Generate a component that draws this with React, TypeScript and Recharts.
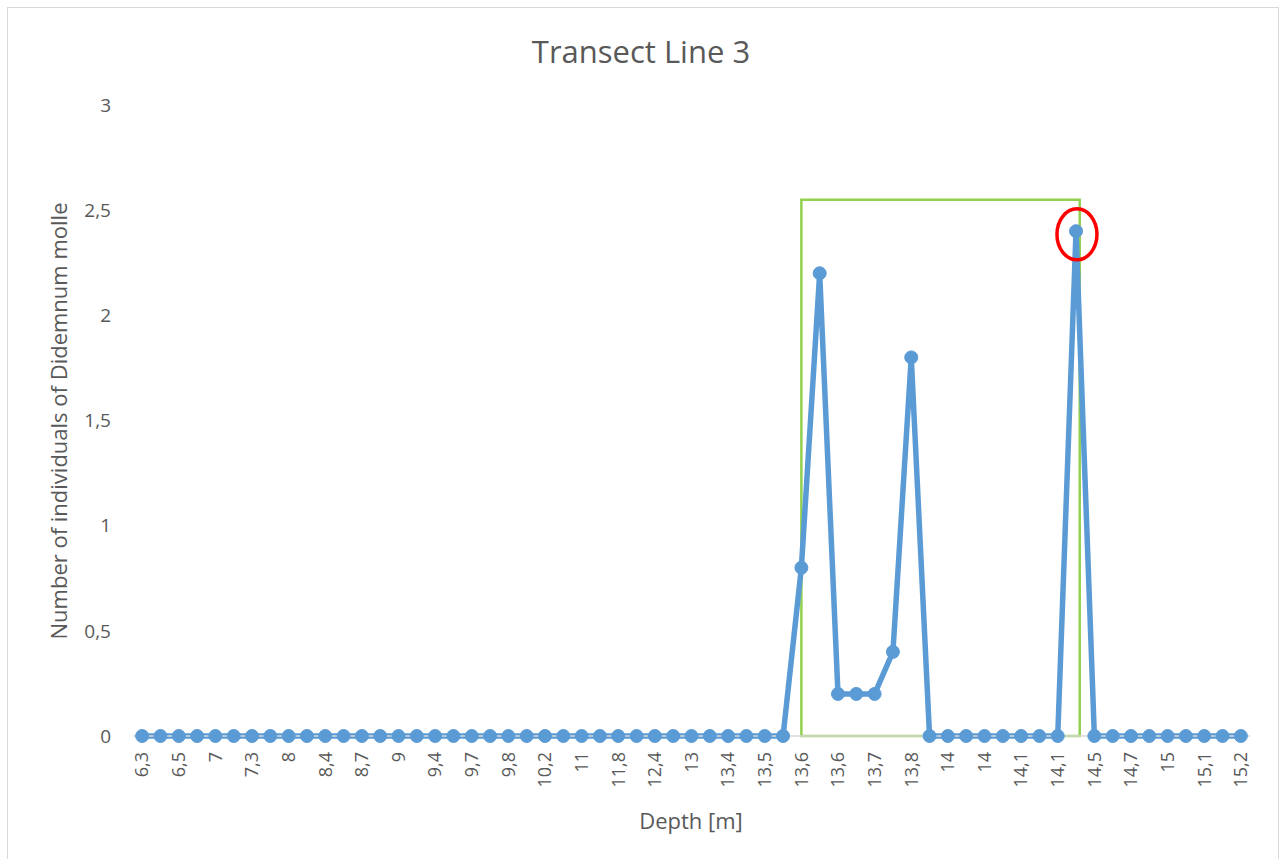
import { LineChart, Line, XAxis, YAxis, ReferenceArea, ReferenceDot } from 'recharts'

// depth of each sample point (odd entries are not shown on the axis)
const depths = [
  '6,3', '6,4', '6,5', '6,8', '7', '7,1', '7,3', '7,6', '8', '8,2',
  '8,4', '8,5', '8,7', '8,9', '9', '9,2', '9,4', '9,5', '9,7', '9,7',
  '9,8', '10', '10,2', '10,6', '11', '11,4', '11,8', '12,1', '12,4', '12,7',
  '13', '13,2', '13,4', '13,4', '13,5', '13,5', '13,6', '13,6', '13,6', '13,6',
  '13,7', '13,7', '13,8', '13,9', '14', '14', '14', '14', '14,1', '14,1',
  '14,1', '14,3', '14,5', '14,6', '14,7', '14,8', '15', '15', '15,1', '15,1',
  '15,2',
]

const counts = [
  0, 0, 0, 0, 0, 0, 0, 0, 0, 0,
  0, 0, 0, 0, 0, 0, 0, 0, 0, 0,
  0, 0, 0, 0, 0, 0, 0, 0, 0, 0,
  0, 0, 0, 0, 0, 0, 0.8, 2.2, 0.2, 0.2,
  0.2, 0.4, 1.8, 0, 0, 0, 0, 0, 0, 0,
  0, 2.4, 0, 0, 0, 0, 0, 0, 0, 0,
  0,
]

const yTicks = [0, 0.5, 1, 1.5, 2, 2.5, 3]

// highlighted zone and the marked maximum
const zone = { x1: 36, x2: 51.2, y1: 0, y2: 2.55 }
const peak = { x: 51.05, y: 2.385 }

const data = counts.map((v, i) => ({ idx: i, depth: depths[i], count: v }))
const xTicks = depths.map((_, i) => i).filter((i) => i % 2 === 0)

const FONT = '"Open Sans", "Liberation Sans", sans-serif'
const GREY = '#595959'

const fmt = (v: number) => String(v).replace('.', ',')

const DepthTick = (props: any) => {
  const { x, y, payload } = props
  const top = y + 8
  // rotate around the top end of the label
  return (
    <text
      x={x}
      y={top}
      transform={`rotate(-90, ${x}, ${top})`}
      dy="0.35em"
      textAnchor="end"
      fill={GREY}
      fontSize={18}
      fontFamily={FONT}
    >
      {depths[payload.value]}
    </text>
  )
}

const PeakRing = (props: any) => (
  <ellipse
    cx={props.cx}
    cy={props.cy}
    rx={20}
    ry={25.5}
    fill="none"
    stroke="#ff0000"
    strokeWidth={3.5}
  />
)

export default function App() {
  return (
    <div
      style={{
        position: 'absolute',
        left: 0,
        top: 0,
        width: 1282,
        height: 859,
        background: '#fff',
        fontFamily: FONT,
      }}
    >
      <div
        style={{
          position: 'absolute',
          left: 7,
          top: 7,
          width: 1270,
          height: 860,
          border: '1.5px solid #d9d9d9',
        }}
      />
      <div
        style={{
          position: 'absolute',
          left: 0,
          width: 1282,
          top: 30,
          textAlign: 'center',
          fontSize: 31,
          color: GREY,
        }}
      >
        Transect Line 3
      </div>
      <div
        style={{
          position: 'absolute',
          left: 58,
          top: 421,
          transform: 'translate(-50%, -50%) rotate(-90deg)',
          whiteSpace: 'nowrap',
          fontSize: 22,
          color: GREY,
        }}
      >
        Number of individuals of Didemnum molle
      </div>
      <div
        style={{
          position: 'absolute',
          left: 691,
          top: 820,
          transform: 'translate(-50%, -50%)',
          whiteSpace: 'nowrap',
          fontSize: 22,
          color: GREY,
        }}
      >
        Depth [m]
      </div>
      <LineChart
        width={1282}
        height={859}
        data={data}
        margin={{ top: 105, right: 32, bottom: 23, left: 73 }}
        style={{ position: 'absolute', left: 0, top: 0 }}
      >
        <XAxis
          dataKey="idx"
          type="number"
          domain={[-0.5, 60.5]}
          ticks={xTicks}
          interval={0}
          height={100}
          tick={<DepthTick />}
          tickLine={false}
          axisLine={{ stroke: '#d9d9d9', strokeWidth: 1.5 }}
        />
        <YAxis
          type="number"
          domain={[0, 3]}
          ticks={yTicks}
          width={60}
          tickFormatter={fmt}
          tickLine={false}
          axisLine={false}
          tickMargin={16}
          tick={{ fill: GREY, fontSize: 19, fontFamily: FONT }}
        />
        <Line
          dataKey="count"
          stroke="#5b9bd5"
          strokeWidth={5.5}
          dot={{ r: 6.5, fill: '#5b9bd5', stroke: '#5b9bd5', strokeWidth: 1 }}
          activeDot={false}
          isAnimationActive={false}
        />
        <ReferenceArea
          x1={zone.x1}
          x2={zone.x2}
          y1={zone.y1}
          y2={zone.y2}
          fill="none"
          fillOpacity={0}
          stroke="#92d050"
          strokeWidth={2.5}
        />
        <ReferenceDot x={peak.x} y={peak.y} shape={<PeakRing />} />
      </LineChart>
    </div>
  )
}
